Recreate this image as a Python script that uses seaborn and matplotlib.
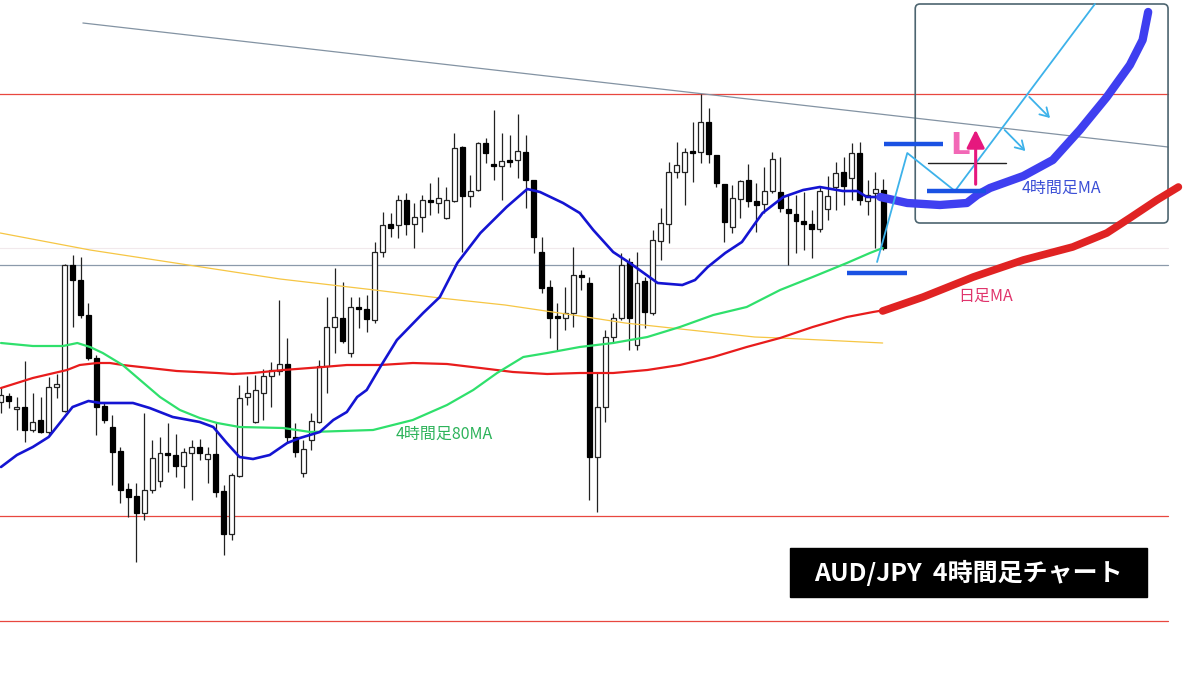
import numpy as np
import pandas as pd
import seaborn as sns
import matplotlib.pyplot as plt
from matplotlib.patches import Rectangle, FancyBboxPatch

sns.set_theme(style="white")
plt.rcParams['font.family'] = ['Noto Sans CJK JP', 'DejaVu Sans']

# AUD/JPY 4H candles, oldest -> newest
opens = [77.98, 78.04, 77.91, 77.93, 77.70, 77.80, 77.68, 78.13, 77.89, 79.35,
         79.20, 78.85, 78.42, 77.94, 77.73, 77.49, 77.11, 77.04, 76.87, 77.10,
         77.19, 77.47, 77.45, 77.34, 77.47, 77.53, 77.41, 77.46, 77.09, 76.66,
         77.24, 78.03, 77.78, 78.07, 78.24, 78.29, 78.36, 77.63, 77.27, 77.60,
         77.78, 78.34, 78.73, 78.82, 78.47, 78.93, 78.91, 78.80, 79.48, 79.76,
         79.75, 80.00, 79.76, 79.83, 80.00, 79.97, 79.82, 79.99, 80.53, 80.04,
         80.10, 80.57, 80.36, 80.34, 80.40, 80.40, 80.48, 80.20, 79.48, 79.13,
         78.84, 78.82, 78.87, 79.25, 79.17, 77.43, 77.93, 78.63, 78.82, 79.38,
         78.55, 79.19, 78.87, 79.59, 79.76, 80.28, 80.28, 80.48, 80.48, 80.78,
         80.45, 80.16, 79.73, 80.01, 80.20, 79.99, 79.96, 80.09, 80.08, 79.91,
         79.86, 79.79, 79.76, 79.71, 79.91, 80.13, 80.28, 80.22, 80.47, 79.99,
         80.07, 80.10]
highs = [78.13, 78.07, 78.03, 78.39, 78.07, 78.03, 78.23, 78.26, 79.36, 79.45,
         79.43, 78.97, 78.45, 77.97, 77.85, 77.53, 77.17, 77.17, 77.87, 77.60,
         77.63, 77.77, 77.66, 77.52, 77.60, 77.61, 77.53, 77.78, 77.15, 77.27,
         78.15, 78.24, 78.25, 78.31, 78.38, 79.00, 78.62, 77.77, 77.60, 77.87,
         78.40, 79.03, 79.32, 79.18, 79.03, 79.03, 79.05, 79.58, 79.88, 79.87,
         80.05, 80.07, 79.97, 80.05, 80.17, 80.23, 80.13, 80.67, 80.54, 80.25,
         80.58, 80.62, 80.90, 80.67, 80.65, 80.86, 80.65, 80.20, 79.63, 79.20,
         78.97, 79.13, 79.53, 79.30, 79.23, 78.28, 78.70, 78.87, 79.47, 79.42,
         79.48, 79.23, 79.70, 79.92, 80.38, 80.58, 80.52, 80.78, 81.06, 80.92,
         80.45, 80.16, 80.15, 80.20, 80.36, 80.17, 80.33, 80.48, 80.43, 80.05,
         80.05, 80.08, 79.90, 80.13, 80.24, 80.38, 80.43, 80.57, 80.58, 80.20,
         80.28, 80.21]
lows = [77.87, 77.92, 77.70, 77.58, 77.68, 77.67, 77.65, 78.02, 77.88, 78.73,
        78.82, 78.40, 77.65, 77.77, 77.15, 76.97, 76.83, 76.38, 76.80, 77.07,
        77.13, 77.28, 77.23, 77.12, 77.00, 77.40, 77.17, 77.03, 76.45, 76.60,
        77.23, 77.95, 77.77, 77.80, 77.93, 78.25, 77.58, 77.43, 77.23, 77.50,
        77.77, 78.07, 78.47, 78.57, 78.43, 78.72, 78.68, 78.77, 79.43, 79.63,
        79.62, 79.65, 79.52, 79.68, 79.85, 79.87, 79.81, 79.98, 79.48, 79.93,
        80.09, 80.37, 80.20, 80.00, 80.33, 80.22, 79.92, 79.47, 79.07, 78.62,
        78.50, 78.70, 78.73, 79.10, 77.00, 76.88, 77.78, 78.57, 78.80, 78.50,
        78.50, 78.72, 78.85, 79.40, 79.57, 80.22, 79.95, 80.18, 80.37, 80.37,
        80.13, 79.58, 79.67, 79.82, 79.93, 79.68, 79.87, 80.07, 79.88, 79.35,
        79.47, 79.50, 79.42, 79.68, 79.80, 79.90, 79.95, 80.00, 79.95, 79.85,
        79.52, 79.50]
closes = [78.05, 77.99, 77.93, 77.70, 77.78, 77.68, 78.13, 78.16, 79.35, 79.20,
          78.85, 78.42, 77.93, 77.80, 77.48, 77.10, 77.03, 76.87, 77.10, 77.42,
          77.47, 77.45, 77.34, 77.48, 77.53, 77.47, 77.46, 77.08, 76.66, 77.25,
          78.02, 78.07, 78.10, 78.24, 78.30, 78.36, 77.63, 77.48, 77.51, 77.79,
          78.34, 78.73, 78.83, 78.59, 78.93, 78.91, 78.81, 79.48, 79.75, 79.72,
          80.00, 79.76, 79.83, 80.00, 79.98, 80.02, 80.00, 80.52, 80.04, 80.09,
          80.57, 80.47, 80.34, 80.39, 80.38, 80.49, 80.20, 79.63, 79.12, 78.82,
          78.82, 78.87, 79.25, 79.23, 77.43, 77.93, 78.63, 78.82, 79.35, 78.82,
          79.17, 78.88, 79.60, 79.77, 80.28, 80.35, 80.48, 80.47, 80.78, 80.46,
          80.17, 79.78, 80.02, 80.19, 79.99, 79.95, 80.09, 80.41, 79.92, 79.87,
          79.79, 79.76, 79.71, 80.09, 80.04, 80.27, 80.14, 80.47, 80.00, 80.05,
          80.11, 79.52]

# moving averages read at candle positions
ma20_x = [0, 2, 4, 6, 7.4, 9, 11, 12.5, 16.6, 18.7, 21.6, 25, 26.7, 28.4, 30, 31.7,
          33.8, 36, 37.6, 40.1, 41.8, 43.5, 44.8, 46, 47.7, 49.8, 53.1, 55.2, 57.4,
          60.3, 63.6, 66.2, 67.8, 70.7, 72.8, 74.5, 77, 79.1, 82.6, 85.7, 87.3, 88.9,
          91.1, 93.2, 94.8, 95.8, 98.4, 100.9, 103, 105.9, 107.7, 108.9, 110.6]
ma20 = [77.33, 77.45, 77.53, 77.63, 77.77, 77.93, 77.99, 77.97, 77.97, 77.92, 77.83,
        77.78, 77.73, 77.57, 77.43, 77.41, 77.45, 77.57, 77.62, 77.68, 77.80, 77.88,
        78.03, 78.10, 78.33, 78.60, 78.87, 79.03, 79.37, 79.67, 79.93, 80.11, 80.08,
        79.97, 79.87, 79.70, 79.48, 79.37, 79.17, 79.15, 79.20, 79.33, 79.47, 79.58,
        79.76, 79.87, 80.03, 80.10, 80.13, 80.09, 80.09, 80.03, 80.03]
ma80_x = [0, 4, 7.8, 9.6, 11.2, 12.8, 15.3, 17.5, 20, 22.5, 25, 27.2, 30, 35.5, 38.9,
          46.8, 51.8, 56.1, 59.4, 62.4, 65.7, 68.7, 72.8, 77, 81.3, 85.4, 89.6, 93.8,
          98, 102.1, 106.4, 109.3, 110.9]
ma80 = [78.57, 78.54, 78.54, 78.57, 78.53, 78.47, 78.35, 78.20, 78.03, 77.90, 77.82,
        77.77, 77.73, 77.72, 77.68, 77.70, 77.80, 77.95, 78.10, 78.27, 78.43, 78.47,
        78.53, 78.57, 78.63, 78.73, 78.85, 78.93, 79.10, 79.23, 79.37, 79.47, 79.52]
daily_x = [0, 4, 8.3, 9.9, 12.1, 13.7, 15.3, 18.7, 22.1, 27.2, 29.2, 31.7, 35.5, 40.5,
           43.5, 47.7, 51.8, 56.1, 60.3, 64.4, 68.7, 72.8, 77, 81.3, 85.4, 89.6, 93.8,
           98, 102.1, 106.4, 109.7, 111.2]
daily_ma = [78.12, 78.22, 78.30, 78.35, 78.37, 78.37, 78.35, 78.32, 78.29, 78.27, 78.26,
            78.27, 78.30, 78.33, 78.35, 78.35, 78.37, 78.36, 78.32, 78.28, 78.26, 78.27,
            78.27, 78.30, 78.35, 78.43, 78.53, 78.62, 78.73, 78.83, 78.88, 78.90]
slow_x = [-0.1, 11.2, 35.1, 47.0, 55.2, 63.4, 72.8, 78.5, 94.8, 98.0, 110.9]
slow_ma = [79.67, 79.50, 79.21, 79.10, 79.02, 78.95, 78.84, 78.77, 78.63, 78.62, 78.57]

# horizontal levels and trend line
res_lines = [81.06, 76.84, 75.79]
grey_level = 79.35
faint_level = 79.52
trend_x = [10.3, 146.8]
trend_y = [81.77, 80.53]

# hand-drawn scenario in the inset
proj4h_x = [110.6, 114.0, 118.1, 121.5, 122.8, 124.4, 128.6, 132.3, 135.7, 139.1, 142.0, 143.6, 144.3]
proj4h_y = [80.03, 79.97, 79.95, 79.97, 80.05, 80.12, 80.24, 80.40, 80.70, 81.03, 81.35, 81.60, 81.88]
projd_x = [110.9, 116.0, 122.3, 128.6, 134.8, 139.1, 142.0, 145.4, 148.1]
projd_y = [78.89, 79.03, 79.23, 79.40, 79.53, 79.67, 79.82, 80.00, 80.13]
path_x = [110.2, 114.0, 120.0, 137.6]
path_y = [79.38, 80.47, 80.09, 81.96]
bars = [(111.1, 118.5, 80.56), (116.5, 123.9, 80.09), (106.4, 114.0, 79.27)]

fig = plt.figure(figsize=(12, 6.75), dpi=100)
ax = fig.add_axes([0, 0, 1, 1])
ax.set_xlim(-0.126, 150.82)
ax.set_ylim(75.25, 82.0)
ax.axis('off')

for lv in res_lines:
    ax.plot([-1, 146.8], [lv, lv], color='#e8473f', lw=0.9, zorder=1)
ax.plot([-1, 146.8], [grey_level, grey_level], color='#8b9aab', lw=0.9, zorder=1)
ax.plot([-1, 146.8], [faint_level, faint_level], color='#f1e9ec', lw=0.8, zorder=0)
ax.plot(trend_x, trend_y, color='#8393a3', lw=0.9, zorder=1)

# candles
df = pd.DataFrame({'o': opens, 'h': highs, 'l': lows, 'c': closes})
df['x'] = np.arange(len(df))
up = df['c'] >= df['o']
ax.vlines(df['x'], df['l'], df['h'], color='#222222', lw=0.9, zorder=2)
body_lo = df[['o', 'c']].min(axis=1)
body_h = (df['c'] - df['o']).abs().clip(lower=0.02)
ax.bar(df['x'][up], body_h[up], bottom=body_lo[up], width=0.62,
       color='white', edgecolor='#222222', linewidth=0.9, zorder=3)
ax.bar(df['x'][~up], body_h[~up], bottom=body_lo[~up], width=0.62,
       color='black', edgecolor='black', linewidth=0.9, zorder=3)

# MAs
sns.lineplot(x=slow_x, y=slow_ma, ax=ax, color='#f6c644', lw=0.9, zorder=4)
sns.lineplot(x=daily_x, y=daily_ma, ax=ax, color='#e81c1c', lw=1.6, zorder=4)
sns.lineplot(x=ma80_x, y=ma80, ax=ax, color='#2fe06c', lw=1.6, zorder=4)
sns.lineplot(x=ma20_x, y=ma20, ax=ax, color='#1414d2', lw=1.9, zorder=5)

# inset frame
frame = FancyBboxPatch((115.0, 79.77), 31.8, 2.19,
                       boxstyle='round,pad=0,rounding_size=0.6',
                       mutation_aspect=7.95 / 100, fill=False,
                       edgecolor='#4d6570', lw=1.2, zorder=6)
ax.add_patch(frame)

ax.plot(projd_x, projd_y, color='#e02323', lw=5.5, solid_capstyle='round', zorder=7)
ax.plot(proj4h_x, proj4h_y, color='#3f3ff0', lw=6, solid_capstyle='round', zorder=7)
ax.plot(path_x, path_y, color='#3db2ea', lw=1.3, zorder=8)
for x0, x1, lv in bars:
    ax.plot([x0, x1], [lv, lv], color='#1a52e3', lw=3.2, solid_capstyle='butt', zorder=8)
ax.plot([116.6, 126.4], [80.37, 80.37], color='#222222', lw=1.0, zorder=8)

for sx, sy, ex, ey in [(126.0, 80.72, 129.1, 80.47), (129.1, 81.05, 132.2, 80.80)]:
    ax.annotate('', xy=(ex, ey), xytext=(sx, sy),
                arrowprops=dict(arrowstyle='->,head_length=0.5,head_width=0.3',
                                color='#3db2ea', lw=1.3), zorder=8)
ax.annotate('', xy=(122.6, 80.73), xytext=(122.6, 80.13),
            arrowprops=dict(arrowstyle='-|>,head_length=0.9,head_width=0.45',
                            color='#e6187e', lw=2.2), zorder=9)
ax.text(120.6, 80.54, 'L', color='#f268b6', fontsize=22, fontweight='bold',
        ha='center', va='center', family=['DejaVu Sans'], zorder=9)

ax.text(128.4, 80.12, '4時間足MA', color='#3b4fd6', fontsize=11.5,
        ha='left', va='center', zorder=9)
ax.text(120.4, 79.04, '日足MA', color='#e0346c', fontsize=11.5,
        ha='left', va='center', zorder=9)
ax.text(55.7, 77.66, '4時間足80MA', color='#2db35a', fontsize=11.5,
        ha='center', va='center', zorder=9)

ax.add_patch(Rectangle((99.2, 76.03), 45.0, 0.49, color='black', zorder=9))
ax.text(121.7, 76.275, 'AUD/JPY  4時間足チャート', color='white', fontsize=18,
        fontweight='bold', ha='center', va='center', zorder=10)

fig.savefig('out.png', dpi=100, facecolor='white')
